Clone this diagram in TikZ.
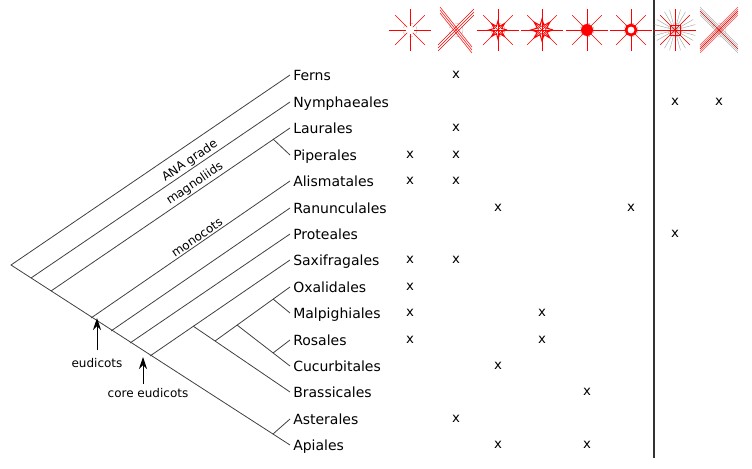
\documentclass[tikz,border=0pt]{standalone}
\usepackage{fontspec}
\setmainfont{DejaVu Sans}
\usetikzlibrary{positioning,calc,arrows.meta}

\tikzset{
  taxon/.style={anchor=base west,inner sep=0pt,font=\fontsize{10.5}{12}\selectfont},
  clade/.style={font=\fontsize{9}{10}\selectfont,above,sloped,inner sep=1pt},
  branch/.style={draw=black!75,line width=0.6pt},
  ray/.style={red,line width=0.5pt},
  xmark/.style={font=\fontsize{10}{12}\selectfont,inner sep=0pt}
}
\newcommand{\flower}[2]{% centre, rays
  \draw[gray!60,dashed,line width=0.3pt] (#1) circle (7);
  \foreach \a in {0,45,...,315} \draw[ray] ($(#1)+(\a:#2)$) -- ($(#1)+(\a:21)$);
}

\begin{document}
\begin{tikzpicture}[x=0.75pt,y=-0.75pt]
  \useasboundingbox (0,0) rectangle (752,468);

  % taxa
  \foreach \n/\t/\y in {fe/Ferns/75,ny/Nymphaeales/102,la/Laurales/128,pi/Piperales/155,
      al/Alismatales/181,ra/Ranunculales/208,pr/Proteales/234,sa/Saxifragales/260,
      ox/Oxalidales/287,ma/Malpighiales/313,ro/Rosales/340,cu/Cucurbitales/366,
      br/Brassicales/392,as/Asterales/419,ap/Apiales/445}
    {\node[taxon] (\n) at (293,\y+5) {\t};}

  % internal nodes
  \coordinate (root) at (11,265);
  \coordinate (nnode) at (31,278);
  \coordinate (mnode) at (51,291);
  \coordinate (pnode) at (273,139);
  \coordinate (anode) at (91,318);
  \coordinate (rnode) at (111,331);
  \coordinate (prnode) at (130,343);
  \coordinate (snode) at (150,356);
  \coordinate (rosids) at (193,326);
  \coordinate (onode) at (215,341);
  \coordinate (cnode) at (237,325);
  \coordinate (mpnode) at (273,299);
  \coordinate (ronode) at (273,353);
  \coordinate (asnode) at (273,434);
  \foreach \n/\y in {fe/75,ny/102,la/128,pi/155,al/181,ra/208,pr/234,sa/260,
      ox/287,ma/313,ro/340,cu/366,br/392,as/419,ap/445}
    {\coordinate (\n t) at (290,\y);}

  % tree
  \draw[branch] (fet) -- (root) -- (apt);
  \draw[branch] (nnode) -- node[clade,pos=0.63]{ANA grade} (nyt);
  \draw[branch] (mnode) -- node[clade,pos=0.62]{magnoliids} (lat);
  \draw[branch] (pnode) -- (pit);
  \draw[branch] (anode) -- node[clade,pos=0.55]{monocots} (alt);
  \draw[branch] (rnode) -- (rat);
  \draw[branch] (prnode) -- (prt);
  \draw[branch] (snode) -- (sat);
  \draw[branch] (rosids) -- (brt);
  \draw[branch] (onode) -- (oxt);
  \draw[branch] (cnode) -- (cut);
  \draw[branch] (mpnode) -- (mat);
  \draw[branch] (ronode) -- (rot);
  \draw[branch] (asnode) -- (ast);

  % arrows
  \node[font=\fontsize{9}{10}\selectfont] (eu) at (97,363) {eudicots};
  \coordinate (eutip) at (97,318);
  \coordinate (eutail) at (97,350);
  \draw[-{Stealth[length=9pt,width=6pt]},line width=0.7pt] (eutail) -- (eutip);
  \node[font=\fontsize{9}{10}\selectfont] (ceu) at (148,393) {core eudicots};
  \coordinate (ceutip) at (143,357);
  \coordinate (ceutail) at (143,384);
  \draw[-{Stealth[length=9pt,width=6pt]},line width=0.7pt] (ceutail) -- (ceutip);

  % separator
  \draw[black!80,line width=0.8pt] (654,0) -- (654,458);

  % icons
  \flower{410,30}{4}
  \draw[gray!60,dashed,line width=0.3pt] (456,30) circle (7);
  \foreach \o in {-3,0,3} {
    \draw[red,line width=0.4pt] (440,10+\o) -- (472,50+\o);
    \draw[red,line width=0.4pt] (438,48+\o) -- (474,12+\o);}
  \flower{498,30}{0}
  \draw[ray,line width=0.8pt] (498,30) +(0:9) \foreach \a in {22.5,45,...,360} {-- +(\a:{mod(\a,45)==0 ? 9 : 4})};
  \flower{542,30}{0}
  \draw[ray,line width=0.8pt] (542,30) +(0:11) \foreach \a in {22.5,45,...,360} {-- +(\a:{mod(\a,45)==0 ? 11 : 5})};
  \draw[ray] (542,30) circle (4);
  \flower{587,30}{6}
  \fill[red] (587,30) circle (6);
  \flower{631,30}{6}
  \draw[red,line width=2pt] (631,30) circle (5);
  \draw[gray!60,dashed,line width=0.3pt] (675,30) circle (7);
  \foreach \a in {0,15,...,345} \draw[gray!60,line width=0.4pt] (675,30) -- +(\a:21);
  \foreach \a in {0,45,...,315} \draw[ray] (675,30) -- +(\a:21);
  \draw[ray] (670,25) rectangle (680,35);
  \draw[gray!60,dashed,line width=0.3pt] (719,30) circle (7);
  \foreach \o in {-4,-2,0,2,4} {
    \draw[gray!60,line width=0.4pt] (700,11+\o) -- (738,49+\o);
    \draw[red!70,line width=0.4pt] (700,49+\o) -- (738,11+\o);}
  \draw[ray] (700,11) -- (738,49); \draw[ray] (700,49) -- (738,11);

  % marks
  \foreach \c/\y [count=\i] in {456/75,675/102,719/102,456/128,410/155,456/155,410/181,456/181,
      498/208,631/208,675/234,410/260,456/260,410/287,410/313,542/313,410/340,542/340,
      498/366,587/392,456/419,498/445,587/445}
    {\node[xmark] (x\i) at (\c,\y) {x};}
\end{tikzpicture}
\end{document}
